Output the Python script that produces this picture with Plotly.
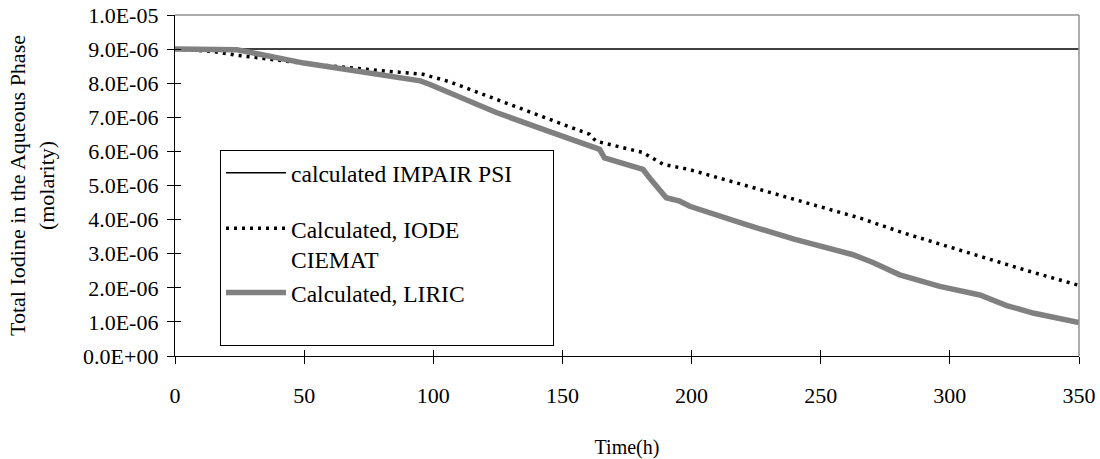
import plotly.graph_objects as go

# ---- data ----
time_impair = [0, 352]
conc_impair = [9.0e-6, 9.0e-6]

time_iode = [0, 15, 24, 50, 75, 96, 106, 124, 145, 160.5, 163, 181, 189, 199, 220, 250, 265, 282, 295, 312, 330, 350]
conc_iode = [9.0e-6, 8.93e-6, 8.82e-6, 8.58e-6, 8.40e-6, 8.26e-6, 8.05e-6, 7.53e-6, 6.95e-6, 6.50e-6, 6.30e-6,
             5.97e-6, 5.62e-6, 5.47e-6, 5.02e-6, 4.37e-6, 4.05e-6, 3.61e-6, 3.31e-6, 2.90e-6, 2.50e-6, 2.07e-6]

time_liric = [0, 24, 50, 75, 95, 98.5, 124.4, 145, 164.4, 166.3, 181.2, 184, 190.2, 195.4, 199.3, 221.2, 240,
              262.5, 270, 280.6, 296.1, 311.6, 322, 332.2, 350]
conc_liric = [9.0e-6, 8.98e-6, 8.59e-6, 8.29e-6, 8.07e-6, 7.97e-6, 7.14e-6, 6.58e-6, 6.06e-6, 5.81e-6, 5.47e-6,
              5.20e-6, 4.64e-6, 4.54e-6, 4.39e-6, 3.85e-6, 3.42e-6, 2.97e-6, 2.75e-6, 2.38e-6, 2.04e-6, 1.79e-6,
              1.48e-6, 1.26e-6, 0.98e-6]

y_tickvals = [0, 1e-6, 2e-6, 3e-6, 4e-6, 5e-6, 6e-6, 7e-6, 8e-6, 9e-6, 1e-5]
y_ticktext = ["0.0E+00", "1.0E-06", "2.0E-06", "3.0E-06", "4.0E-06", "5.0E-06",
              "6.0E-06", "7.0E-06", "8.0E-06", "9.0E-06", "1.0E-05"]
x_tickvals = [0, 50, 100, 150, 200, 250, 300, 350]

FONT = "Liberation Serif"
TICKFONT = dict(family=FONT, size=22, color="black")

fig = go.Figure()
fig.add_trace(go.Scatter(x=time_impair, y=conc_impair, mode="lines",
                         name="calculated IMPAIR PSI" + "&nbsp;" * 6,
                         line=dict(color="black", width=1.5), legendgroup="a"))
fig.add_trace(go.Scatter(x=time_iode, y=conc_iode, mode="lines", name="Calculated, IODE<br>CIEMAT",
                         line=dict(color="black", width=3.5, dash="3px,5px"), legendgroup="b"))
fig.add_trace(go.Scatter(x=time_liric, y=conc_liric, mode="lines", name="Calculated, LIRIC<br>&nbsp;",
                         line=dict(color="#808080", width=5.5), legendgroup="b"))

# second axes to draw ticks inside (crossing ticks)
fig.add_trace(go.Scatter(x=[None], y=[None], xaxis="x2", yaxis="y2", showlegend=False, hoverinfo="skip"))

fig.update_layout(
    width=1100, height=459,
    margin=dict(l=175, r=21, t=15, b=103),
    paper_bgcolor="white", plot_bgcolor="white",
    font=dict(family=FONT, size=22, color="black"),
    showlegend=True,
    legend=dict(x=0.0498, y=0.604, xanchor="left", yanchor="top",
                bgcolor="white", bordercolor="black", borderwidth=1,
                font=dict(family=FONT, size=23.5, color="black"),
                tracegroupgap=22, traceorder="grouped", valign="top", itemwidth=60),
    xaxis=dict(range=[0, 350], tickvals=x_tickvals, showgrid=False, zeroline=False, automargin=False,
               showline=True, linecolor="black", linewidth=1.3, ticks="outside", ticklen=7,
               tickcolor="black", ticklabelstandoff=12, tickfont=TICKFONT, ticklabeloverflow="allow",
               title=dict(text="Time(h)", font=dict(family=FONT, size=20), standoff=33)),
    yaxis=dict(range=[0, 1e-5], tickvals=y_tickvals, ticktext=y_ticktext, showgrid=False, zeroline=False,
               automargin=False,
               showline=True, linecolor="black", linewidth=1.3, ticks="outside", ticklen=7,
               tickcolor="black", ticklabelstandoff=4, tickfont=TICKFONT, ticklabeloverflow="allow",
               title=dict(text="Total Iodine in the Aqueous Phase<br>(molarity)", font=dict(family=FONT, size=22),
                          standoff=22)),
    xaxis2=dict(range=[0, 350], tickvals=x_tickvals, overlaying="x", showticklabels=False, ticks="inside",
                ticklen=6, tickcolor="black", showgrid=False, zeroline=False, showline=False, anchor="y2"),
    yaxis2=dict(range=[0, 1e-5], tickvals=y_tickvals, overlaying="y", showticklabels=False, ticks="inside",
                ticklen=6, tickcolor="black", showgrid=False, zeroline=False, showline=False, anchor="x2"),
    shapes=[dict(type="line", xref="paper", yref="paper", x0=0, x1=1, y0=1, y1=1,
                 line=dict(color="#909090", width=1.5)),
            dict(type="line", xref="paper", yref="paper", x0=1, x1=1, y0=0, y1=1,
                 line=dict(color="#909090", width=1.5))],
)

# remove the browser's default 8px body margin so the figure fills the window exactly
fig.write_html("out.html", config={"displayModeBar": False},
               post_script="document.body.style.margin='0';document.body.style.overflow='hidden';")
